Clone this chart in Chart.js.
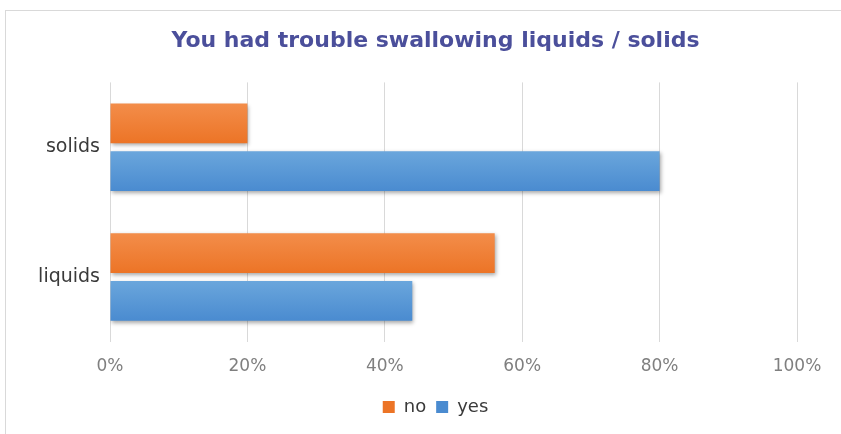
<!DOCTYPE html>
<html>
<head>
<meta charset="utf-8">
<script src="https://cdn.jsdelivr.net/npm/chart.js@4"></script>
<style>
    html, body { margin: 0; padding: 0; background: #fff; }
    #wrap { position: relative; width: 841px; height: 434px; overflow: hidden; }
    #frame { position: absolute; left: 5px; top: 10px; width: 900px; height: 500px;
             border-left: 1px solid #d9d9d9; border-top: 1px solid #d9d9d9; }
    canvas { position: absolute; left: 0; top: 0; }
</style>
</head>
<body>
<div id="wrap">
    <div id="frame"></div>
    <canvas id="swallowChart" width="841" height="434"></canvas>
</div>
<script>
var categories = ["solids", "liquids"];
var noValues = [20, 56];
var yesValues = [80, 44];
var tickLabels = ["0%", "20%", "40%", "60%", "80%", "100%"];

// soft vertical gradient on each bar, like the Excel style
function barGradient(light, dark) {
    return function (context) {
        var bar = context.element;
        if (context.type !== "data" || !bar || !bar.height) {
            return dark;
        }
        var g = context.chart.ctx.createLinearGradient(0, bar.y - bar.height / 2, 0, bar.y + bar.height / 2);
        g.addColorStop(0, light);
        g.addColorStop(1, dark);
        return g;
    };
}

var barShadow = {
    id: "barShadow",
    beforeDatasetsDraw: function (chart) {
        var c = chart.ctx;
        c.save();
        c.shadowColor = "rgba(0,0,0,0.35)";
        c.shadowBlur = 4;
        c.shadowOffsetX = 1;
        c.shadowOffsetY = 2;
    },
    afterDatasetsDraw: function (chart) {
        chart.ctx.restore();
    }
};

document.addEventListener("DOMContentLoaded", function () {
    var ctx = document.getElementById("swallowChart").getContext("2d");
    var swallowChart = new Chart(ctx, {
        type: "bar",
        data: {
            labels: categories,
            datasets: [
                {
                    label: "no",
                    data: noValues,
                    backgroundColor: barGradient("#f38d4a", "#ec7426"),
                },
                {
                    label: "yes",
                    data: yesValues,
                    backgroundColor: barGradient("#6aa6dc", "#4a8bd0"),
                },
            ],
        },
        plugins: [barShadow],
        options: {
            indexAxis: "y",
            responsive: false,
            animation: false,
            categoryPercentage: 0.7356,
            barPercentage: 0.833,
            layout: {
                padding: { left: 30, right: 0, top: 0, bottom: 8 },
            },
            scales: {
                x: {
                    min: 0,
                    max: 100,
                    ticks: {
                        stepSize: 20,
                        padding: 14,
                        color: "#7f7f7f",
                        font: { family: "DejaVu Sans", size: 17 },
                        callback: function (value, index) {
                            return tickLabels[index];
                        },
                    },
                    grid: { color: "#d9d9d9", drawTicks: false },
                    border: { display: false },
                    afterFit: function (scale) {
                        scale.height = 46;
                        scale.paddingRight = 44;
                    },
                },
                y: {
                    ticks: {
                        padding: 10,
                        color: "#3a3a3a",
                        font: { family: "DejaVu Sans", size: 19 },
                    },
                    grid: { display: false, drawTicks: false },
                    border: { display: false },
                    afterFit: function (scale) { scale.width = 80; },
                },
            },
            plugins: {
                title: {
                    display: true,
                    text: "You had trouble swallowing liquids / solids",
                    color: "#4b4f9b",
                    font: { family: "DejaVu Sans", size: 22, weight: "bold" },
                    padding: { top: 28, bottom: 28 },
                },
                legend: {
                    position: "bottom",
                    labels: {
                        boxWidth: 12,
                        boxHeight: 12,
                        padding: 10,
                        color: "#3a3a3a",
                        font: { family: "DejaVu Sans", size: 18 },
                    },
                },
                tooltip: { enabled: false },
            },
        },
    });
    swallowChart.update();
});
</script>
</body>
</html>
